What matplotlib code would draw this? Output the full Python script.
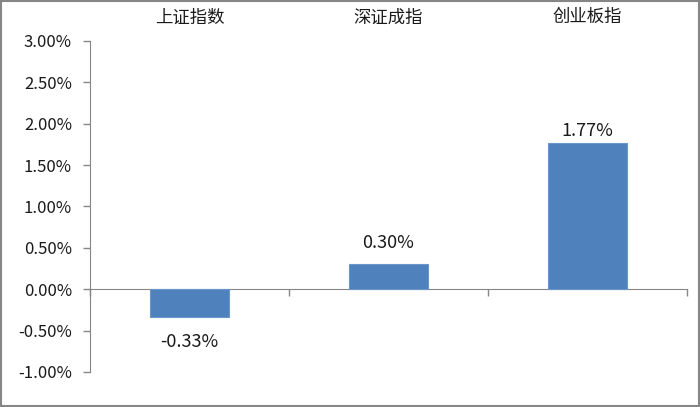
import matplotlib.pyplot as plt
import numpy as np
from matplotlib.patches import Rectangle
from matplotlib.ticker import FuncFormatter

plt.rcParams['font.family'] = ['Noto Sans CJK SC', 'DejaVu Sans']

categories = ['上证指数', '深证成指', '创业板指']
changes = [-0.33, 0.30, 1.77]
yticks = [-1.0, -0.5, 0.0, 0.5, 1.0, 1.5, 2.0, 2.5, 3.0]
label_offsets = [-0.31, 0.26, 0.14]

fig = plt.figure(figsize=(7, 4.07), dpi=100)
ax = fig.add_axes([0.1286, 0.086, 0.8528, 0.8133])

x = np.arange(len(categories))
ax.bar(x, changes, width=0.4, color='#4f81bd', edgecolor='#6a96cc', linewidth=0.8, zorder=3)

for xi, v, off in zip(x, changes, label_offsets):
    ax.text(xi, v + off, f'{v:.2f}%', ha='center', va='center', fontsize=13, color='#1a1a1a')

ax.set_xlim(-0.5, len(categories) - 0.5)
ax.set_ylim(-1.0, 3.0)
ax.set_yticks(yticks)
ax.yaxis.set_major_formatter(FuncFormatter(lambda v, p: f'{v:.2f}%'))

ax.set_xticks(x)
ax.set_xticklabels(categories)
ax.set_xticks(np.arange(len(categories) + 1) - 0.5, minor=True)
ax.tick_params(axis='x', which='major', bottom=False, top=False, labelbottom=False, labeltop=True,
               labelsize=12.5, pad=7, colors='#1a1a1a')
ax.tick_params(axis='x', which='minor', bottom=True, top=False, length=5, width=1, color='#868686', direction='out')
ax.tick_params(axis='y', length=5, width=1, color='#868686', labelsize=12, labelcolor='#1a1a1a', pad=8)

ax.spines['top'].set_visible(False)
ax.spines['right'].set_visible(False)
ax.spines['bottom'].set_position(('data', 0))
ax.spines['bottom'].set_color('#868686')
ax.spines['left'].set_color('#868686')

fig.patches.append(Rectangle((0.001, 0.002), 0.997, 0.996, transform=fig.transFigure,
                             fill=False, edgecolor='#868686', linewidth=1.5))

fig.savefig('out.png', dpi=100)
